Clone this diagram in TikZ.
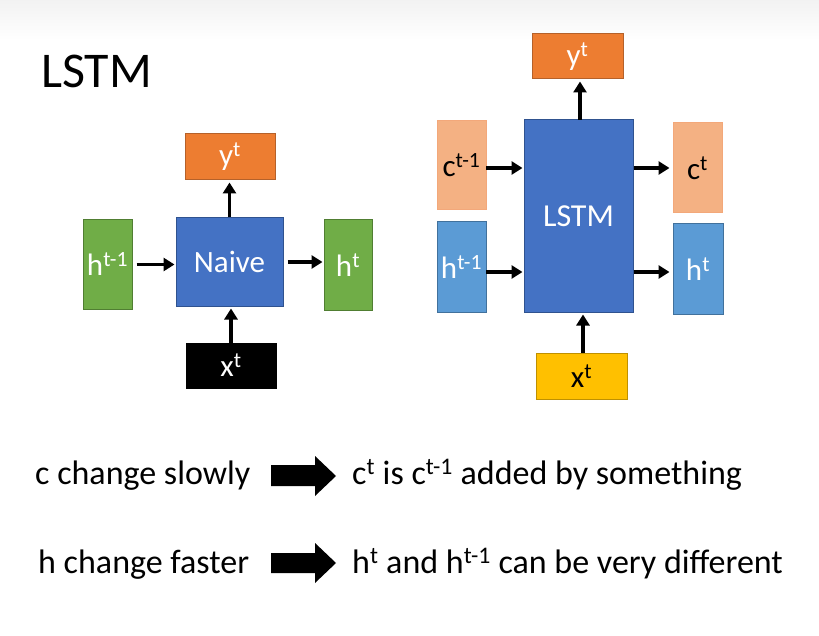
\documentclass[tikz,border=0pt]{standalone}
\usepackage{fontspec}
\setmainfont{Carlito}
\usetikzlibrary{arrows.meta}
\definecolor{orangeF}{HTML}{ED7D31}
\definecolor{orangeD}{HTML}{B5612A}
\definecolor{blueF}{HTML}{4472C4}
\definecolor{blueD}{HTML}{2F528F}
\definecolor{greenF}{HTML}{70AD47}
\definecolor{greenD}{HTML}{507E32}
\definecolor{salmonF}{HTML}{F4B183}
\definecolor{salmonD}{HTML}{F3A87A}
\definecolor{lblueF}{HTML}{5B9BD5}
\definecolor{lblueD}{HTML}{41719C}
\definecolor{yellowF}{HTML}{FFC000}
\definecolor{yellowD}{HTML}{BF9000}
\begin{document}
\begin{tikzpicture}[x=1pt,y=-1pt,
  box/.style={draw, line width=1pt, inner sep=0pt, font=\fontsize{31}{35}\selectfont},
  arr/.style={-{Triangle[length=11pt,width=13pt]}, line width=3.6pt},
  txt/.style={anchor=base west, inner sep=0pt, font=\fontsize{34}{40}\selectfont}]
\useasboundingbox (0,0) rectangle (819,636);
\fill[white] (0,0) rectangle (819,636);
\shade[top color=black!5, bottom color=white] (0,0) rectangle (819,40);

% title
\node[anchor=base west, inner sep=0pt, font=\fontsize{50}{56}\selectfont] (title) at (41,88) {LSTM};

% left: naive RNN
\node[box, fill=orangeF, draw=orangeD, text=white, minimum width=90, minimum height=46] (ylt) at (230,157) {y\textsuperscript{t}};
\node[box, fill=blueF, draw=blueD, text=white, minimum width=107, minimum height=88] (naive) at (229.5,262) {Naive};
\node[box, fill=greenF, draw=greenD, text=white, minimum width=49, minimum height=89] (hl1) at (107.5,264.5) {h\textsuperscript{t-1}};
\node[box, fill=greenF, draw=greenD, text=white, minimum width=48, minimum height=90] (hlt) at (348,265) {h\textsuperscript{t}};
\node[box, fill=black, draw=black, text=white, minimum width=90, minimum height=45] (xlt) at (231,365.5) {x\textsuperscript{t}};

\draw[arr, shorten <=4pt, shorten >=1pt] (hl1.east) -- (hl1.east -| naive.west);
\draw[arr, shorten <=4pt, shorten >=1pt] (naive.east) -- (naive.east -| hlt.west);
\draw[arr, shorten >=2pt] (naive.north) -- (naive.north |- ylt.south);
\draw[arr, shorten >=2pt] (xlt.north) -- (xlt.north |- naive.south);

% right: LSTM
\node[box, fill=orangeF, draw=orangeD, text=white, minimum width=91, minimum height=45] (yrt) at (577.5,56.5) {y\textsuperscript{t}};
\node[box, fill=blueF, draw=blueD, text=white, minimum width=109, minimum height=192, font=\fontsize{32}{36}\selectfont] (lstm) at (578.5,216) {LSTM};
\node[box, fill=salmonF, draw=salmonD, text=black, minimum width=49, minimum height=89] (cr1) at (461.5,165.5) {c\textsuperscript{t-1}};
\node[box, fill=lblueF, draw=lblueD, text=white, minimum width=49, minimum height=90] (hr1) at (461.5,267) {h\textsuperscript{t-1}};
\node[box, fill=salmonF, draw=salmonD, text=black, minimum width=49, minimum height=90] (crt) at (697.5,168) {c\textsuperscript{t}};
\node[box, fill=lblueF, draw=lblueD, text=white, minimum width=50, minimum height=90] (hrt) at (698,269) {h\textsuperscript{t}};
\node[box, fill=yellowF, draw=yellowD, text=black, minimum width=91, minimum height=46] (xrt) at (581.5,376) {x\textsuperscript{t}};

\coordinate (cin) at (486,168);
\coordinate (hin) at (486,272);
\draw[arr, shorten >=1pt] (cin) -- (cin -| lstm.west);
\draw[arr, shorten >=1pt] (hin) -- (hin -| lstm.west);
\draw[arr, shorten >=3pt] (cin -| lstm.east) -- (cin -| crt.west);
\draw[arr, shorten >=3pt] (hin -| lstm.east) -- (hin -| hrt.west);
\coordinate (yup) at (580,120);
\draw[arr, shorten >=2pt] (yup) -- (yup |- yrt.south);
\coordinate (xup) at (583,353);
\draw[arr, shorten >=2pt] (xup) -- (xup |- lstm.south);

% bottom statements
\node[txt] (c1) at (35,484) {c change slowly};
\node[txt] (c2) at (352,484) {c\textsuperscript{t} is c\textsuperscript{t-1} added by something};
\node[txt] (h1) at (38,573) {h change faster};
\node[txt] (h2) at (352,573) {h\textsuperscript{t} and h\textsuperscript{t-1} can be very different};

\fill (271,465) -- (315,465) -- (315,456) -- (336,476) -- (315,496) -- (315,486) -- (271,486) -- cycle;
\fill (271,553) -- (315,553) -- (315,543) -- (336,563) -- (315,583) -- (315,573) -- (271,573) -- cycle;
\end{tikzpicture}
\end{document}
